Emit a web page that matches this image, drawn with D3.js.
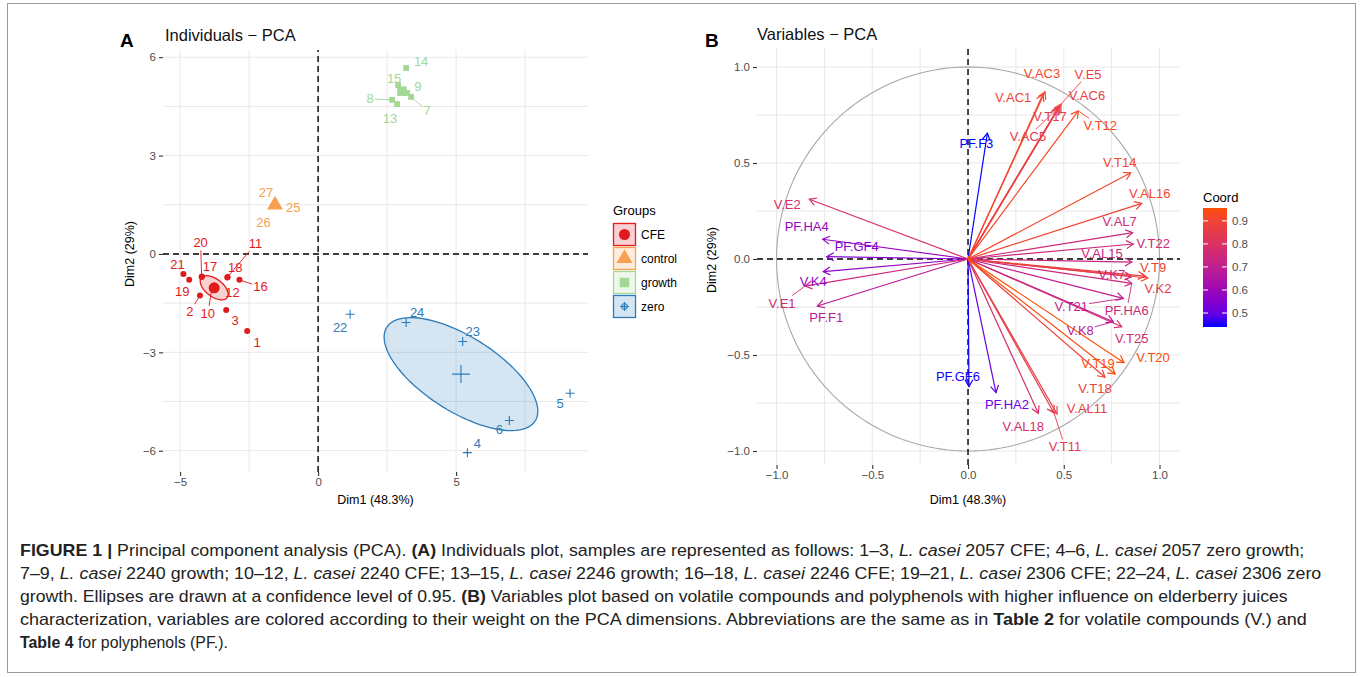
<!DOCTYPE html>
<html>
<head>
<meta charset="utf-8">
<script src="https://cdn.jsdelivr.net/npm/d3@7"></script>
<style>
  body { margin: 0; background: #fff; }
  text { font-family: "Liberation Sans", Arial, sans-serif; }
</style>
</head>
<body>
<div id="wrapper"></div>
<script>
// ---------- Panel A : individuals ----------
const groupNames = ["CFE", "control", "growth", "zero"];
const groupColors = ["#E31A1C", "#F9A050", "#A3D795", "#2B7BBA"];
const ellipseGroups = ["CFE", "zero"];

const indIds   = ["1", "2", "3", "10", "11", "12", "16", "17", "18", "19", "20", "21",
                  "25", "26", "27",
                  "7", "8", "9", "13", "14", "15",
                  "4", "5", "6", "22", "23", "24"];
const indGroup = ["CFE", "CFE", "CFE", "CFE", "CFE", "CFE", "CFE", "CFE", "CFE", "CFE", "CFE", "CFE",
                  "control", "control", "control",
                  "growth", "growth", "growth", "growth", "growth", "growth",
                  "zero", "zero", "zero", "zero", "zero", "zero"];
const indDim1  = [-2.57, -4.28, -3.33, -3.85, -3.28, -3.75, -2.85, -4.21, -3.29, -4.67, -4.22, -4.88,
                  -1.55, -1.58, -1.56,
                  3.37, 2.68, 3.22, 2.86, 3.19, 2.90,
                  5.41, 9.13, 6.93, 1.16, 5.24, 3.19];
const indDim2  = [-2.35, -1.27, -1.71, -1.05, -0.70, -1.00, -0.79, -0.69, -0.72, -0.79, -0.70, -0.61,
                  1.50, 1.47, 1.51,
                  4.79, 4.70, 4.91, 4.57, 5.67, 5.15,
                  -6.06, -4.25, -5.08, -1.84, -2.67, -2.09];

const indXTicks = [-5, 0, 5];
const indYTicks = [-6, -3, 0, 3, 6];

// ---------- Panel B : variables ----------
const varNames = ["V.AC3", "V.AC1", "V.E5", "V.AC6", "V.T17", "V.AC5", "V.T12", "V.T14", "V.AL16",
                  "V.AL7", "V.T22", "V.AL15", "V.T9", "V.K7", "V.K2", "PF.HA6", "V.T21", "V.K8",
                  "V.T25", "V.T20", "V.T19", "V.T18", "V.AL11", "V.AL18", "V.T11", "PF.HA2",
                  "PF.GF6", "PF.F3", "V.E2", "PF.HA4", "PF.GF4", "V.K4", "V.E1", "PF.F1"];
const varDim1 = [0.402, 0.392, 0.486, 0.480, 0.470, 0.475, 0.576, 0.850, 0.907,
                 0.860, 0.863, 0.856, 0.940, 0.855, 0.924, 0.855, 0.811, 0.759,
                 0.803, 0.815, 0.768, 0.715, 0.465, 0.367, 0.449, 0.146,
                 0.005, 0.101, -0.829, -0.759, -0.738, -0.756, -0.851, -0.787];
const varDim2 = [0.871, 0.859, 0.807, 0.797, 0.786, 0.792, 0.771, 0.449, 0.290,
                 0.137, 0.078, -0.016, -0.099, -0.092, -0.089, -0.127, -0.205, -0.327,
                 -0.353, -0.540, -0.599, -0.616, -0.807, -0.804, -0.802, -0.696,
                 -0.665, 0.655, 0.311, 0.103, 0.012, -0.066, -0.141, -0.245];

const varTicks = [-1, -0.5, 0, 0.5, 1];
const coordTicks = [0.5, 0.6, 0.7, 0.8, 0.9];

// label placement (pixel nudges, like ggrepel) : [dx, dy, drawLeader]
const indLabelNudge = {
  "1": [10, 11], "2": [-10, 16, 1], "3": [9, 10], "10": [-4, 25, 1], "11": [28, -33, 1],
  "12": [18, 6], "16": [21, 7, 1], "17": [8, -10], "18": [8, -10], "19": [-7, 12],
  "20": [-1, -34, 1], "21": [-6, -9],
  "25": [18, 3], "26": [-11, 17], "27": [-9, -12],
  "7": [16, 14, 1], "8": [-22, -1, 1], "9": [11, -6], "13": [-7, 14], "14": [15, -7], "15": [-4, -7],
  "4": [10, -9], "5": [-10, 10], "6": [-10, 9], "22": [-10, 13], "23": [10, -10], "24": [11, -10]
};
const varLabelNudge = {
  "V.AC3": [-3, -18], "V.AC1": [-30, 3], "V.E5": [27, -30, 1], "V.AC6": [27, -10], "V.T17": [-8, 8],
  "V.AC5": [-31, 30, 1], "V.T12": [22, 15, 1], "V.T14": [-11, -10], "V.AL16": [8, -10],
  "V.AL7": [-13, -11], "V.T22": [20, -1], "V.AL15": [-30, -9], "V.T9": [5, -11], "V.K7": [-20, -2],
  "V.K2": [13, 12], "PF.HA6": [-5, 27, 1], "V.T21": [-52, 8, 1], "V.K8": [-33, 9, 1],
  "V.T25": [10, 12], "V.T20": [29, -5], "V.T19": [-17, -10], "V.T18": [-10, 11],
  "V.AL11": [30, -5], "V.AL18": [-15, 13], "V.T11": [11, 34, 1], "PF.HA2": [11, 12],
  "PF.GF6": [-11, -10], "PF.F3": [-11, 10], "V.E2": [-22, 5], "PF.HA4": [-16, -13],
  "PF.GF4": [30, -10], "V.K4": [-10, 10], "V.E1": [-23, 17, 1], "PF.F1": [9, 11]
};

const W = 1360, H = 677;
const svg = d3.select("#wrapper").append("svg")
  .attr("width", W).attr("height", H)
  .style("background", "#fff");

// figure frame
svg.append("rect")
  .attr("x", 7.5).attr("y", 3.5).attr("width", 1348).attr("height", 669)
  .attr("fill", "none").attr("stroke", "#9a9a9a");

// ---------- helpers ----------
function drawGrid(g, x, y, xs, ys) {
  const [x0, x1] = x.range(), [y0, y1] = y.range();
  g.selectAll(null).data(xs).enter().append("line")
    .attr("x1", d => x(d)).attr("x2", d => x(d)).attr("y1", y0).attr("y2", y1)
    .attr("stroke", "#e8e8e8").attr("stroke-width", 1);
  g.selectAll(null).data(ys).enter().append("line")
    .attr("y1", d => y(d)).attr("y2", d => y(d)).attr("x1", x0).attr("x2", x1)
    .attr("stroke", "#e8e8e8").attr("stroke-width", 1);
}

function drawZeroLines(g, x, y) {
  g.append("line").attr("x1", x(0)).attr("x2", x(0)).attr("y1", y.range()[0]).attr("y2", y.range()[1])
    .attr("stroke", "#000").attr("stroke-width", 1.4).attr("stroke-dasharray", "6,4");
  g.append("line").attr("y1", y(0)).attr("y2", y(0)).attr("x1", x.range()[0]).attr("x2", x.range()[1])
    .attr("stroke", "#000").attr("stroke-width", 1.4).attr("stroke-dasharray", "6,4");
}

function drawAxes(g, x, y, xt, yt, fmt) {
  const ya = g.append("g").attr("transform", `translate(${x.range()[0]},0)`)
    .call(d3.axisLeft(y).tickValues(yt).tickSize(4).tickPadding(3).tickFormat(fmt));
  const xa = g.append("g").attr("transform", `translate(0,${y.range()[0]})`)
    .call(d3.axisBottom(x).tickValues(xt).tickSize(4).tickPadding(2).tickFormat(fmt));
  [ya, xa].forEach(a => {
    a.select(".domain").remove();
    a.selectAll("line").attr("stroke", "#333").attr("stroke-width", 1.1);
    a.selectAll("text").attr("fill", "#4d4d4d").style("font-size", "11.5px")
      .style("font-family", '"Liberation Sans", Arial, sans-serif');
  });
}

// segment from label box edge to the target point
function leader(g, textNode, tx, ty, color) {
  const b = textNode.getBBox();
  const cx = b.x + b.width / 2, cy = b.y + b.height / 2;
  const dx = tx - cx, dy = ty - cy;
  const t = Math.min((b.width / 2 + 1) / Math.abs(dx || 1e-9), (b.height / 2) / Math.abs(dy || 1e-9));
  if (t >= 0.9) return;
  g.append("line")
    .attr("x1", cx + dx * t).attr("y1", cy + dy * t)
    .attr("x2", tx).attr("y2", ty)
    .attr("stroke", color).attr("stroke-width", 0.9);
}

// ===================== PANEL A =====================
const xA = d3.scaleLinear().domain([-5.62, 9.78]).range([163, 588]);
const yA = d3.scaleLinear().domain([-6.65, 6.22]).range([472, 50]);
const colorA = d3.scaleOrdinal().domain(groupNames).range(groupColors);

const gA = svg.append("g");
drawGrid(gA, xA, yA, [-5, -2.5, 0, 2.5, 5, 7.5], [-6, -4.5, -3, -1.5, 0, 1.5, 3, 4.5, 6]);
drawAxes(gA, xA, yA, indXTicks, indYTicks, d3.format("d"));

const inds = indIds.map((id, i) => ({ id, group: indGroup[i], x: indDim1[i], y: indDim2[i] }));

// confidence ellipses around group means (level 0.95)
const chi2 = 5.991;
const groupStats = groupNames.map(name => {
  const pts = inds.filter(d => d.group === name);
  const n = pts.length;
  const mx = d3.mean(pts, d => d.x), my = d3.mean(pts, d => d.y);
  const sxx = d3.sum(pts, d => (d.x - mx) ** 2) / (n - 1);
  const syy = d3.sum(pts, d => (d.y - my) ** 2) / (n - 1);
  const sxy = d3.sum(pts, d => (d.x - mx) * (d.y - my)) / (n - 1);
  return { name, n, mx, my, sxx, syy, sxy };
});

groupStats.filter(s => ellipseGroups.includes(s.name)).forEach(s => {
  const k = Math.sqrt(chi2 / s.n);
  // cholesky of covariance
  const a = Math.sqrt(s.sxx);
  const b = s.sxy / a;
  const c = Math.sqrt(Math.max(s.syy - b * b, 0));
  const ring = d3.range(0, 361, 4).map(deg => {
    const t = deg * Math.PI / 180;
    const u = Math.cos(t), v = Math.sin(t);
    return [xA(s.mx + k * a * u), yA(s.my + k * (b * u + c * v))];
  });
  gA.append("path").attr("d", d3.line()(ring) + "Z")
    .attr("fill", colorA(s.name)).attr("fill-opacity", 0.2)
    .attr("stroke", colorA(s.name)).attr("stroke-width", 1.3);
});

drawZeroLines(gA, xA, yA);

function marker(sel, group, big) {
  const col = colorA(group);
  if (group === "CFE") {
    sel.append("circle").attr("r", big ? 5.5 : 3).attr("fill", col);
  } else if (group === "control") {
    sel.append("path").attr("d", d3.symbol(d3.symbolTriangle, big ? 110 : 40)()).attr("fill", col);
  } else if (group === "growth") {
    sel.append("path").attr("d", d3.symbol(d3.symbolSquare, big ? 90 : 34)()).attr("fill", col);
  } else {
    const s = big ? 9 : 4.5;
    sel.append("path").attr("d", `M${-s},0H${s}M0,${-s}V${s}`)
      .attr("stroke", col).attr("stroke-width", 1.1).attr("fill", "none");
  }
}

inds.forEach(d => {
  const g = gA.append("g").attr("transform", `translate(${xA(d.x)},${yA(d.y)})`);
  marker(g, d.group, false);
});
groupStats.forEach(s => {
  const g = gA.append("g").attr("transform", `translate(${xA(s.mx)},${yA(s.my)})`);
  marker(g, s.name, true);
});

inds.forEach(d => {
  const nud = indLabelNudge[d.id] || [8, -8];
  const px = xA(d.x), py = yA(d.y);
  const t = gA.append("text")
    .attr("x", px + nud[0]).attr("y", py + nud[1])
    .attr("text-anchor", "middle").attr("dominant-baseline", "central")
    .attr("fill", colorA(d.group)).style("font-size", "13px")
    .text(d.id);
  if (nud[2]) leader(gA, t.node(), px, py, colorA(d.group));
});

// titles / labels
svg.append("text").attr("x", 120).attr("y", 47).style("font-size", "19px").style("font-weight", "bold").text("A");
svg.append("text").attr("x", 165).attr("y", 41).style("font-size", "16.5px").attr("fill", "#111").text("Individuals \u2212 PCA");
svg.append("text").attr("x", (xA.range()[0] + xA.range()[1]) / 2).attr("y", 504)
  .attr("text-anchor", "middle").style("font-size", "12.5px").text("Dim1 (48.3%)");
svg.append("text").attr("transform", "translate(134,254) rotate(-90)")
  .attr("text-anchor", "middle").style("font-size", "12.5px").text("Dim2 (29%)");

// legend A
const legA = svg.append("g").attr("transform", "translate(613,0)");
legA.append("text").attr("x", 0).attr("y", 215).style("font-size", "13px").text("Groups");
groupNames.forEach((name, i) => {
  const y0 = 223 + i * 24;
  const col = colorA(name);
  legA.append("rect").attr("x", 0.5).attr("y", y0 + 0.5).attr("width", 22).attr("height", 22)
    .attr("fill", col).attr("fill-opacity", 0.2).attr("stroke", col).attr("stroke-width", 1.3);
  const g = legA.append("g").attr("transform", `translate(11.5,${y0 + 11.5})`);
  if (name === "zero") {
    g.append("circle").attr("r", 3).attr("fill", col).attr("fill-opacity", 0.25).attr("stroke", col);
  }
  marker(g, name, name === "zero" ? false : true);
  legA.append("text").attr("x", 28).attr("y", y0 + 11.5).attr("dominant-baseline", "central")
    .style("font-size", "12px").text(name);
});

// ===================== PANEL B =====================
const xB = d3.scaleLinear().domain([-1.102, 1.107]).range([757, 1180]);
const yB = d3.scaleLinear().domain([-1.073, 1.099]).range([465, 48]);

const vars = varNames.map((name, i) => ({ name, x: varDim1[i], y: varDim2[i], coord: varDim1[i] ** 2 + varDim2[i] ** 2 }));
const coordExtent = d3.extent(vars, d => d.coord);
const colorB = d3.scaleLinear().domain(coordExtent).range(["#0000FF", "#FC4E07"]).interpolate(d3.interpolateLab);

const gB = svg.append("g");
const quarter = [-1, -0.75, -0.5, -0.25, 0, 0.25, 0.5, 0.75, 1];
drawGrid(gB, xB, yB, quarter, quarter);
drawAxes(gB, xB, yB, varTicks, varTicks, d => d3.format(".1f")(d).replace("-", "\u2212"));

// correlation circle
const circ = d3.range(0, 361, 2).map(deg => {
  const t = deg * Math.PI / 180;
  return [xB(Math.cos(t)), yB(Math.sin(t))];
});
gB.append("path").attr("d", d3.line()(circ)).attr("fill", "none").attr("stroke", "#a8a8a8").attr("stroke-width", 1.1);

drawZeroLines(gB, xB, yB);

const ox = xB(0), oy = yB(0);
vars.slice().sort((a, b) => a.coord - b.coord).forEach(d => {
  const tx = xB(d.x), ty = yB(d.y);
  const col = colorB(d.coord);
  gB.append("line").attr("x1", ox).attr("y1", oy).attr("x2", tx).attr("y2", ty)
    .attr("stroke", col).attr("stroke-width", 1.2);
  const ang = Math.atan2(ty - oy, tx - ox);
  const L = 8, spread = Math.PI / 6;
  const p1 = [tx - L * Math.cos(ang - spread), ty - L * Math.sin(ang - spread)];
  const p2 = [tx - L * Math.cos(ang + spread), ty - L * Math.sin(ang + spread)];
  gB.append("path").attr("d", `M${p1}L${tx},${ty}L${p2}`)
    .attr("fill", "none").attr("stroke", col).attr("stroke-width", 1.2);
});

vars.forEach(d => {
  const nud = varLabelNudge[d.name] || [10, -10];
  const tx = xB(d.x), ty = yB(d.y);
  const col = colorB(d.coord);
  const t = gB.append("text")
    .attr("x", tx + nud[0]).attr("y", ty + nud[1])
    .attr("text-anchor", "middle").attr("dominant-baseline", "central")
    .attr("fill", col).style("font-size", "13px")
    .text(d.name);
  if (nud[2]) leader(gB, t.node(), tx, ty, col);
});

svg.append("text").attr("x", 705).attr("y", 47).style("font-size", "19px").style("font-weight", "bold").text("B");
svg.append("text").attr("x", 757).attr("y", 40).style("font-size", "16.5px").attr("fill", "#111").text("Variables \u2212 PCA");
svg.append("text").attr("x", xB(0)).attr("y", 504)
  .attr("text-anchor", "middle").style("font-size", "12.5px").text("Dim1 (48.3%)");
svg.append("text").attr("transform", "translate(716,260) rotate(-90)")
  .attr("text-anchor", "middle").style("font-size", "12.5px").text("Dim2 (29%)");

// colour bar
const barX = 1203, barW = 24;
const yC = d3.scaleLinear().domain(coordExtent).range([327, 208]);
const defs = svg.append("defs");
const grad = defs.append("linearGradient").attr("id", "coordGrad")
  .attr("x1", 0).attr("y1", 1).attr("x2", 0).attr("y2", 0);
d3.range(0, 1.0001, 0.1).forEach(f => {
  grad.append("stop").attr("offset", f)
    .attr("stop-color", colorB(coordExtent[0] + f * (coordExtent[1] - coordExtent[0])));
});
svg.append("text").attr("x", barX).attr("y", 202).style("font-size", "13px").text("Coord");
svg.append("rect").attr("x", barX).attr("y", yC.range()[1]).attr("width", barW)
  .attr("height", yC.range()[0] - yC.range()[1]).attr("fill", "url(#coordGrad)");
coordTicks.forEach(v => {
  svg.append("line").attr("x1", barX).attr("x2", barX + 5).attr("y1", yC(v)).attr("y2", yC(v))
    .attr("stroke", "#fff").attr("stroke-width", 1);
  svg.append("line").attr("x1", barX + barW - 5).attr("x2", barX + barW).attr("y1", yC(v)).attr("y2", yC(v))
    .attr("stroke", "#fff").attr("stroke-width", 1);
  svg.append("text").attr("x", barX + barW + 5).attr("y", yC(v)).attr("dominant-baseline", "central")
    .attr("fill", "#4d4d4d").style("font-size", "11.5px").text(d3.format(".1f")(v));
});

// ===================== CAPTION =====================
const captionLines = [
  [["FIGURE 1 | ", "b"], ["Principal component analysis (PCA). "], ["(A)", "b"], [" Individuals plot, samples are represented as follows: 1\u20133, "], ["L. casei", "i"], [" 2057 CFE; 4\u20136, "], ["L. casei", "i"], [" 2057 zero growth;"]],
  [["7\u20139, "], ["L. casei", "i"], [" 2240 growth; 10\u201312, "], ["L. casei", "i"], [" 2240 CFE; 13\u201315, "], ["L. casei", "i"], [" 2246 growth; 16\u201318, "], ["L. casei", "i"], [" 2246 CFE; 19\u201321, "], ["L. casei", "i"], [" 2306 CFE; 22\u201324, "], ["L. casei", "i"], [" 2306 zero"]],
  [["growth. Ellipses are drawn at a confidence level of 0.95. "], ["(B)", "b"], [" Variables plot based on volatile compounds and polyphenols with higher influence on elderberry juices"]],
  [["characterization, variables are colored according to their weight on the PCA dimensions. Abbreviations are the same as in "], ["Table 2", "b"], [" for volatile compounds (V.) and"]],
  [["Table 4", "b"], [" for polyphenols (PF.)."]]
];
const captionEnds = [1305, 1322, 1288, 1308, 228];

captionLines.forEach((parts, i) => {
  const t = svg.append("text")
    .attr("transform", `translate(20,${556 + i * 23})`)
    .attr("x", 0).attr("y", 0)
    .attr("fill", "#222")
    .style("font-family", '"Liberation Sans Narrow", "Liberation Sans", Arial, sans-serif')
    .style("font-size", "16.5px");
  parts.forEach(p => {
    const ts = t.append("tspan").text(p[0]);
    if (p[1] === "b") ts.style("font-weight", "bold");
    if (p[1] === "i") ts.style("font-style", "italic");
  });
  const w = t.node().getComputedTextLength();
  const k = (captionEnds[i] - 20) / w;
  t.attr("transform", `translate(20,${556 + i * 23}) scale(${k},1)`);
});
</script>
</body>
</html>
